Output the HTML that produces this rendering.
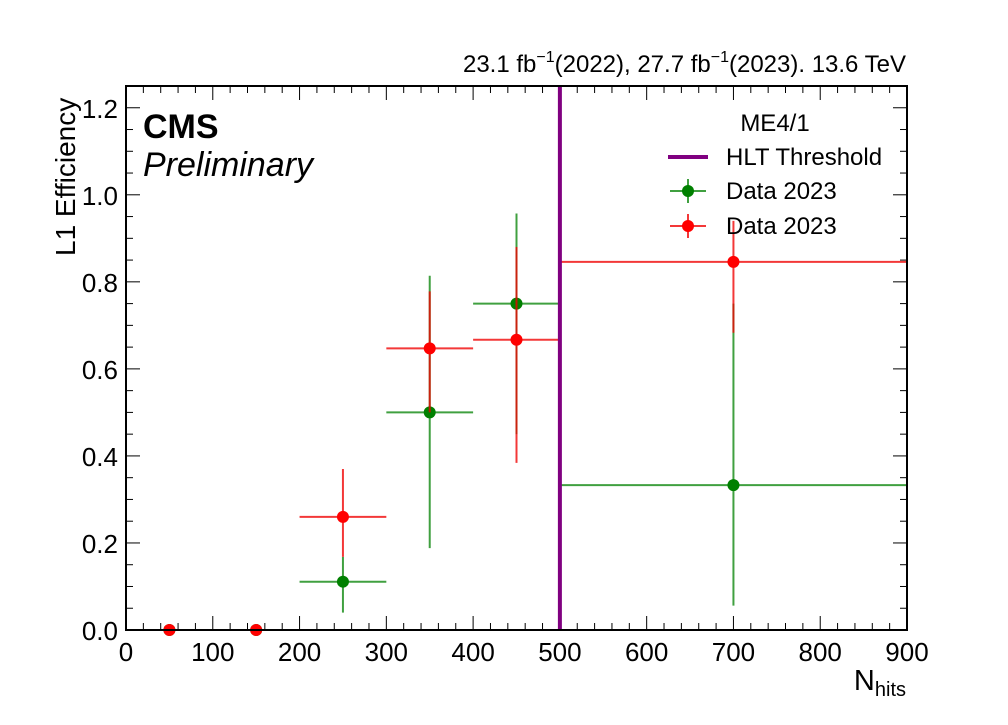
<!DOCTYPE html>
<html><head><meta charset="utf-8"><style>
body{margin:0;background:#fff;}
svg text{font-family:"Liberation Sans",sans-serif;}
</style></head><body>
<svg id="chart" width="1008" height="720" xmlns="http://www.w3.org/2000/svg">
<rect width="1008" height="720" fill="#fff"/>
<g id="plot"></g>
</svg>
<script>
const binCenters=[50,150,250,350,450,700];
const binHalfWidths=[50,50,50,50,50,200];
const greenVals=[0,0,0.111,0.5,0.75,0.333];
const greenLo=[0,0,0.04,0.188,0.45,0.056];
const greenHi=[0,0,0.168,0.814,0.957,0.75];
const redVals=[0,0,0.26,0.647,0.667,0.846];
const redLo=[0,0,0.168,0.5,0.384,0.683];
const redHi=[0,0,0.37,0.778,0.88,0.94];
const xTicks=[0,100,200,300,400,500,600,700,800,900];
const yTicks=[0,0.2,0.4,0.6,0.8,1.0,1.2];
const threshold=500;

const X0=126,X1=907,Y0=630,Y1=86;
const xmax=900,ymax=1.25;
const sx=v=>X0+v/xmax*(X1-X0);
const sy=v=>Y0-v/ymax*(Y0-Y1);
const NS="http://www.w3.org/2000/svg";
const g=document.getElementById('plot');
function mk(t,a,p){const e=document.createElementNS(NS,t);for(const k in a)e.setAttribute(k,a[k]);(p||g).appendChild(e);return e;}

for(let v=0;v<=xmax+0.01;v+=20){const major=v%100===0;const L=major?14:7;
 let t=mk('line',{x1:sx(v),x2:sx(v),y1:Y0,y2:Y0-L,stroke:'#000','stroke-width':1});
 
 let t2=mk('line',{x1:sx(v),x2:sx(v),y1:Y1,y2:Y1+L,stroke:'#000','stroke-width':1});
 }
for(let i=0;i<=25;i++){const v=i*0.05;const major=i%4===0;const L=major?14:7;
 let t=mk('line',{x1:X0,x2:X0+L,y1:sy(v),y2:sy(v),stroke:'#000','stroke-width':1});
 
 let t2=mk('line',{x1:X1,x2:X1-L,y1:sy(v),y2:sy(v),stroke:'#000','stroke-width':1});
 }
xTicks.forEach(v=>{let t=mk('text',{x:sx(v),y:Y0+31,'font-size':26,'text-anchor':'middle'});t.textContent=v;
 });
yTicks.forEach(v=>{let t=mk('text',{x:X0-8,y:sy(v)+10,'font-size':26,'text-anchor':'end'});t.textContent=v.toFixed(1);
 });

function series(vals,lo,hi,col,line,name){
 binCenters.forEach((c,i)=>{
  let h=mk('line',{x1:sx(c-binHalfWidths[i]),x2:sx(c+binHalfWidths[i]),y1:sy(vals[i]),y2:sy(vals[i]),stroke:line,'stroke-width':2});
  
  if(hi[i]>lo[i]){let v=mk('line',{x1:sx(c),x2:sx(c),y1:sy(lo[i]),y2:sy(hi[i]),stroke:line,'stroke-width':2});
  }
  let p=mk('circle',{cx:sx(c),cy:sy(vals[i]),r:6,fill:col});
  
 });
}
series(greenVals,greenLo,greenHi,'#008000','rgba(0,128,0,0.75)','green-series');
series(redVals,redLo,redHi,'#ff0000','rgba(240,0,0,0.78)','red-series');
let th=mk('line',{x1:sx(threshold),x2:sx(threshold),y1:Y1,y2:Y0,stroke:'#800080','stroke-width':4});


let fr=mk('rect',{x:X0,y:Y1,width:X1-X0,height:Y0-Y1,fill:'none',stroke:'#000','stroke-width':2});


const lg=mk('g',{});
let lt=mk('text',{x:775,y:131,'font-size':24,'text-anchor':'middle'},lg);lt.textContent='ME4/1';
mk('line',{x1:668,x2:708,y1:157,y2:157,stroke:'#800080','stroke-width':4},lg);
let l1=mk('text',{x:726,y:165,'font-size':24},lg);l1.textContent='HLT Threshold';
[[191,'#008000','rgba(0,128,0,0.75)'],[226,'#ff0000','rgba(240,0,0,0.78)']].forEach(([y,c,l])=>{
 mk('line',{x1:670,x2:706,y1:y,y2:y,stroke:l,'stroke-width':2},lg);
 mk('line',{x1:688,x2:688,y1:y-12,y2:y+12,stroke:l,'stroke-width':2},lg);
 mk('circle',{cx:688,cy:y,r:6,fill:c},lg);
 let t=mk('text',{x:726,y:y+8,'font-size':24},lg);t.textContent='Data 2023';
});
</script>
<svg width="1008" height="720" style="position:absolute;left:0;top:0" xmlns="http://www.w3.org/2000/svg">
<text x="143" y="138" font-size="34" font-weight="bold" font-family="Liberation Sans">CMS</text>
<text x="143" y="176" font-size="34" font-style="italic" font-family="Liberation Sans">Preliminary</text>
<text x="906" y="72" font-size="24" text-anchor="end" font-family="Liberation Sans">23.1 fb<tspan dy="-10" font-size="16">−1</tspan><tspan dy="10">(2022), 27.7 fb</tspan><tspan dy="-10" font-size="16">−1</tspan><tspan dy="10">(2023). 13.6 TeV</tspan></text>
<text x="906" y="690" font-size="29" text-anchor="end" font-family="Liberation Sans">N<tspan dy="6" font-size="20">hits</tspan></text>
<text transform="translate(75,256) rotate(-90)" font-size="28" font-family="Liberation Sans">L1 Efficiency</text>
</svg>
</body></html>
